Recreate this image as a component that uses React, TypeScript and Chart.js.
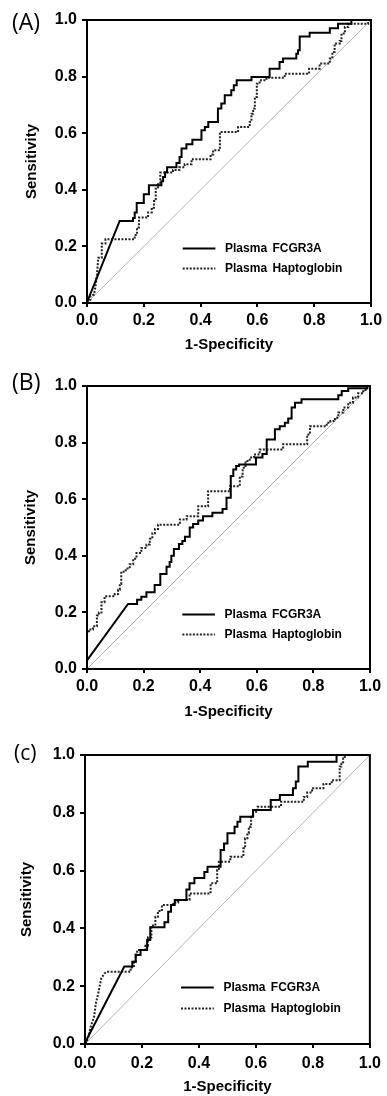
import React, { useEffect, useRef } from "react";
import { Chart, registerables } from "chart.js";

Chart.register(...registerables);

const FONT = "'Liberation Sans', Arial, Helvetica, sans-serif";
const LABEL_FONT = "'Open Sans', 'Noto Sans', sans-serif";

type Pt = [number, number];

const SERIES_LABELS = ["Plasma FCGR3A", "Plasma Haptoglobin"];
const AXIS_TICKS = [0, 0.2, 0.4, 0.6, 0.8, 1.0];
const X_TITLE = "1-Specificity";
const Y_TITLE = "Sensitivity";
const PANEL_LABELS = ["(A)", "(B)", "(c)"];
const CHANCE_LINE: Pt[] = [[0, 0], [1, 1]];

// Panel A
const A_FCGR3A: Pt[] = [
  [0, 0], [0.005, 0.015], [0.115, 0.29], [0.162, 0.29], [0.162, 0.3], [0.168, 0.3], [0.168, 0.32], [0.175, 0.32],
  [0.175, 0.353], [0.2, 0.353], [0.2, 0.384], [0.218, 0.384], [0.218, 0.416], [0.262, 0.416], [0.262, 0.43],
  [0.268, 0.43], [0.268, 0.445], [0.275, 0.445], [0.275, 0.462], [0.282, 0.462], [0.282, 0.48], [0.315, 0.48],
  [0.315, 0.495], [0.326, 0.495], [0.326, 0.516], [0.333, 0.516], [0.333, 0.546], [0.35, 0.546], [0.35, 0.561],
  [0.371, 0.561], [0.371, 0.577], [0.403, 0.577], [0.403, 0.61], [0.415, 0.61], [0.415, 0.622], [0.427, 0.622],
  [0.427, 0.64], [0.461, 0.64], [0.461, 0.687], [0.473, 0.687], [0.473, 0.705], [0.485, 0.705], [0.485, 0.734],
  [0.508, 0.734], [0.508, 0.752], [0.517, 0.752], [0.517, 0.769], [0.527, 0.769], [0.527, 0.787], [0.579, 0.787],
  [0.579, 0.799], [0.643, 0.799], [0.643, 0.828], [0.678, 0.828], [0.678, 0.852], [0.69, 0.852], [0.69, 0.864],
  [0.737, 0.864], [0.737, 0.881], [0.743, 0.881], [0.743, 0.893], [0.749, 0.893], [0.749, 0.942], [0.784, 0.942],
  [0.784, 0.955], [0.855, 0.955], [0.855, 0.971], [0.884, 0.971], [0.884, 0.987], [0.931, 0.987], [0.931, 1], [1, 1],
];
const A_HAPTO: Pt[] = [
  [0, 0], [0.012, 0.012], [0.012, 0.025], [0.025, 0.03], [0.03, 0.06], [0.035, 0.1], [0.04, 0.16], [0.052, 0.16],
  [0.052, 0.21], [0.065, 0.21], [0.065, 0.225], [0.168, 0.225], [0.168, 0.24], [0.176, 0.24], [0.176, 0.267],
  [0.183, 0.267], [0.183, 0.302], [0.215, 0.302], [0.215, 0.32], [0.228, 0.32], [0.228, 0.337], [0.236, 0.337],
  [0.236, 0.36], [0.242, 0.36], [0.242, 0.404], [0.25, 0.404], [0.25, 0.42], [0.258, 0.42], [0.258, 0.461],
  [0.303, 0.461], [0.303, 0.47], [0.325, 0.47], [0.325, 0.48], [0.344, 0.48], [0.344, 0.49], [0.368, 0.49],
  [0.368, 0.508], [0.435, 0.508], [0.435, 0.525], [0.444, 0.525], [0.444, 0.54], [0.468, 0.54], [0.468, 0.604],
  [0.532, 0.604], [0.532, 0.622], [0.573, 0.622], [0.573, 0.64], [0.579, 0.64], [0.579, 0.669], [0.585, 0.669],
  [0.585, 0.687], [0.591, 0.687], [0.591, 0.728], [0.598, 0.728], [0.598, 0.775], [0.608, 0.775], [0.608, 0.787],
  [0.632, 0.787], [0.632, 0.796], [0.696, 0.796], [0.696, 0.81], [0.782, 0.81], [0.782, 0.828], [0.819, 0.828],
  [0.819, 0.846], [0.855, 0.846], [0.855, 0.864], [0.864, 0.864], [0.864, 0.887], [0.872, 0.887], [0.872, 0.917],
  [0.89, 0.917], [0.89, 0.926], [0.896, 0.926], [0.896, 0.952], [0.908, 0.952], [0.908, 0.975], [0.92, 0.975],
  [0.92, 0.987], [0.99, 0.987], [0.99, 1], [1, 1],
];

// Panel B
const B_FCGR3A: Pt[] = [
  [0, 0], [0, 0.03], [0.145, 0.23], [0.177, 0.23], [0.177, 0.245], [0.192, 0.245], [0.192, 0.255], [0.21, 0.255],
  [0.21, 0.271], [0.239, 0.271], [0.239, 0.297], [0.259, 0.297], [0.259, 0.336], [0.281, 0.336], [0.281, 0.361],
  [0.292, 0.361], [0.292, 0.378], [0.298, 0.378], [0.298, 0.4], [0.307, 0.4], [0.307, 0.424], [0.325, 0.424],
  [0.325, 0.442], [0.337, 0.442], [0.337, 0.452], [0.346, 0.452], [0.346, 0.467], [0.363, 0.467], [0.363, 0.5],
  [0.375, 0.5], [0.375, 0.512], [0.393, 0.512], [0.393, 0.525], [0.41, 0.525], [0.41, 0.54], [0.443, 0.54],
  [0.443, 0.552], [0.479, 0.552], [0.479, 0.565], [0.493, 0.565], [0.493, 0.605], [0.508, 0.605], [0.508, 0.682],
  [0.517, 0.682], [0.517, 0.705], [0.527, 0.705], [0.527, 0.717], [0.537, 0.717], [0.537, 0.723], [0.597, 0.723],
  [0.597, 0.747], [0.62, 0.747], [0.62, 0.76], [0.635, 0.76], [0.635, 0.811], [0.664, 0.811], [0.664, 0.847],
  [0.681, 0.847], [0.681, 0.858], [0.699, 0.858], [0.699, 0.87], [0.711, 0.87], [0.711, 0.885], [0.723, 0.885],
  [0.723, 0.924], [0.735, 0.924], [0.735, 0.941], [0.758, 0.941], [0.758, 0.953], [0.888, 0.953], [0.888, 0.967],
  [0.9, 0.967], [0.9, 0.982], [0.923, 0.982], [0.923, 0.992], [0.99, 0.992], [0.99, 1], [1, 1],
];
const B_HAPTO: Pt[] = [
  [0, 0], [0, 0.133], [0.007, 0.133], [0.007, 0.14], [0.021, 0.14], [0.021, 0.151], [0.035, 0.151], [0.035, 0.189],
  [0.042, 0.189], [0.042, 0.2], [0.051, 0.2], [0.051, 0.236], [0.062, 0.236], [0.062, 0.257], [0.098, 0.257],
  [0.098, 0.265], [0.11, 0.265], [0.11, 0.28], [0.116, 0.28], [0.116, 0.3], [0.121, 0.3], [0.121, 0.344],
  [0.137, 0.344], [0.137, 0.355], [0.151, 0.355], [0.151, 0.37], [0.163, 0.37], [0.163, 0.39], [0.175, 0.39],
  [0.175, 0.41], [0.192, 0.41], [0.192, 0.428], [0.21, 0.428], [0.21, 0.44], [0.222, 0.44], [0.222, 0.46],
  [0.231, 0.46], [0.231, 0.48], [0.24, 0.48], [0.24, 0.495], [0.251, 0.495], [0.251, 0.51], [0.328, 0.51],
  [0.328, 0.528], [0.352, 0.528], [0.352, 0.54], [0.393, 0.54], [0.393, 0.575], [0.428, 0.575], [0.428, 0.628],
  [0.505, 0.628], [0.505, 0.646], [0.54, 0.646], [0.54, 0.68], [0.55, 0.68], [0.55, 0.711], [0.56, 0.711],
  [0.56, 0.735], [0.575, 0.735], [0.575, 0.747], [0.59, 0.747], [0.59, 0.758], [0.61, 0.758], [0.61, 0.776],
  [0.693, 0.776], [0.693, 0.794], [0.778, 0.794], [0.778, 0.829], [0.788, 0.829], [0.788, 0.858], [0.847, 0.858],
  [0.847, 0.87], [0.86, 0.87], [0.86, 0.876], [0.876, 0.876], [0.876, 0.888], [0.888, 0.888], [0.888, 0.906],
  [0.906, 0.906], [0.906, 0.924], [0.923, 0.924], [0.923, 0.941], [0.94, 0.941], [0.94, 0.959], [0.958, 0.959],
  [0.958, 0.974], [0.976, 0.974], [0.976, 0.986], [0.99, 0.986], [0.99, 1], [1, 1],
];

// Panel C
const C_FCGR3A: Pt[] = [
  [0, 0], [0.003, 0.01], [0.138, 0.268], [0.166, 0.268], [0.166, 0.285], [0.178, 0.285], [0.178, 0.308],
  [0.195, 0.308], [0.195, 0.325], [0.218, 0.325], [0.218, 0.36], [0.229, 0.36], [0.229, 0.404], [0.279, 0.404],
  [0.279, 0.421], [0.292, 0.421], [0.292, 0.458], [0.302, 0.458], [0.302, 0.481], [0.315, 0.481], [0.315, 0.498],
  [0.356, 0.498], [0.356, 0.535], [0.367, 0.535], [0.367, 0.556], [0.384, 0.556], [0.384, 0.574], [0.419, 0.574],
  [0.419, 0.595], [0.43, 0.595], [0.43, 0.613], [0.476, 0.613], [0.476, 0.671], [0.488, 0.671], [0.488, 0.694],
  [0.5, 0.694], [0.5, 0.729], [0.525, 0.729], [0.525, 0.752], [0.535, 0.752], [0.535, 0.769], [0.545, 0.769],
  [0.545, 0.786], [0.59, 0.786], [0.59, 0.81], [0.652, 0.81], [0.652, 0.844], [0.684, 0.844], [0.684, 0.862],
  [0.73, 0.862], [0.73, 0.885], [0.74, 0.885], [0.74, 0.908], [0.749, 0.908], [0.749, 0.96], [0.782, 0.96],
  [0.782, 0.977], [0.883, 0.977], [0.883, 1], [1, 1],
];
const C_HAPTO: Pt[] = [
  [0, 0], [0.011, 0.02], [0.02, 0.06], [0.032, 0.095], [0.038, 0.14], [0.046, 0.173], [0.057, 0.227],
  [0.069, 0.245], [0.08, 0.25], [0.16, 0.25], [0.16, 0.265], [0.172, 0.265], [0.172, 0.285], [0.178, 0.285],
  [0.178, 0.31], [0.183, 0.31], [0.183, 0.325], [0.212, 0.325], [0.212, 0.34], [0.221, 0.34], [0.221, 0.369],
  [0.233, 0.369], [0.233, 0.41], [0.247, 0.41], [0.247, 0.44], [0.256, 0.44], [0.256, 0.46], [0.27, 0.46],
  [0.27, 0.481], [0.31, 0.481], [0.31, 0.49], [0.327, 0.49], [0.327, 0.498], [0.367, 0.498], [0.367, 0.521],
  [0.441, 0.521], [0.441, 0.556], [0.464, 0.556], [0.464, 0.602], [0.47, 0.602], [0.47, 0.631], [0.51, 0.631],
  [0.51, 0.648], [0.556, 0.648], [0.556, 0.677], [0.562, 0.677], [0.562, 0.712], [0.57, 0.712], [0.57, 0.729],
  [0.575, 0.729], [0.575, 0.752], [0.583, 0.752], [0.583, 0.786], [0.59, 0.786], [0.59, 0.804], [0.606, 0.804],
  [0.606, 0.821], [0.688, 0.821], [0.688, 0.838], [0.768, 0.838], [0.768, 0.855], [0.78, 0.855], [0.78, 0.87],
  [0.797, 0.87], [0.797, 0.885], [0.837, 0.885], [0.837, 0.9], [0.866, 0.9], [0.866, 0.913], [0.894, 0.913],
  [0.894, 0.96], [0.9, 0.96], [0.9, 0.97], [0.906, 0.97], [0.906, 0.988], [0.912, 0.988], [0.912, 1], [1, 1],
];

interface PanelCfg {
  top: number;
  height: number;
  padTop: number;
  padRight: number;
  yWidth: number;
  xHeight: number;
  yTitlePad: number;
  xTitlePad: number;
  xTickPad: number;
  label: string;
  labelLeft: number;
  labelTop: number;
  labelSize: number;
  fcgr: Pt[];
  hapto: Pt[];
}

const PANELS: PanelCfg[] = [
  { top: 0, height: 360, padTop: 20, padRight: 16, yWidth: 87, xHeight: 57, yTitlePad: 23, xTitlePad: 6, xTickPad: 4,
    label: PANEL_LABELS[0], labelLeft: 12, labelTop: 10, labelSize: 23, fcgr: A_FCGR3A, hapto: A_HAPTO },
  { top: 366, height: 360, padTop: 20, padRight: 17, yWidth: 87, xHeight: 57, yTitlePad: 22, xTitlePad: 5, xTickPad: 4,
    label: PANEL_LABELS[1], labelLeft: 12, labelTop: 370, labelSize: 23, fcgr: B_FCGR3A, hapto: B_HAPTO },
  { top: 735, height: 361, padTop: 20, padRight: 11, yWidth: 85, xHeight: 52, yTitlePad: 18, xTitlePad: 0, xTickPad: 6,
    label: PANEL_LABELS[2], labelLeft: 14, labelTop: 742, labelSize: 21, fcgr: C_FCGR3A, hapto: C_HAPTO },
];

const toXY = (arr: Pt[]) => arr.map(([x, y]) => ({ x, y }));

const rocPlugin = {
  id: "rocLegendFrame",
  afterDatasetsDraw(chart: any) {
    const { ctx, chartArea } = chart;
    const { left, right, top, bottom } = chartArea;
    const w = right - left;
    const h = bottom - top;
    ctx.save();
    const items = chart.data.datasets.filter((d: any) => d.label);
    items.forEach((ds: any, i: number) => {
      const y = Math.round(bottom - (0.196 - i * 0.071) * h) + 0.5;
      ctx.beginPath();
      ctx.setLineDash(ds.borderDash || []);
      ctx.lineWidth = ds.borderWidth;
      ctx.strokeStyle = ds.borderColor;
      ctx.moveTo(left + 0.337 * w, y);
      ctx.lineTo(left + 0.452 * w, y);
      ctx.stroke();
      ctx.setLineDash([]);
      ctx.fillStyle = "#000";
      ctx.font = `bold 12px ${FONT}`;
      ctx.textBaseline = "middle";
      ctx.textAlign = "left";
      try { (ctx as any).wordSpacing = "2px"; } catch (e) { /* ignore */ }
      ctx.fillText(ds.label, left + 0.486 * w, y);
    });
    ctx.lineWidth = 2;
    ctx.strokeStyle = "#000";
    ctx.strokeRect(left, top, w, h);
    ctx.restore();
  },
};

function axisCommon(cfg: PanelCfg, isX: boolean) {
  return {
    type: "linear" as const,
    min: 0,
    max: 1,
    afterBuildTicks: (s: any) => {
      s.ticks = AXIS_TICKS.map((v) => ({ value: v }));
    },
    afterFit: (s: any) => {
      if (isX) s.height = cfg.xHeight;
      else s.width = cfg.yWidth;
    },
    ticks: {
      callback: (v: any) => Number(v).toFixed(1),
      font: { family: FONT, size: 16, weight: "bold" as const },
      color: "#000",
      padding: isX ? cfg.xTickPad : 5,
      maxRotation: 0,
      autoSkip: false,
    },
    grid: {
      drawOnChartArea: false,
      drawTicks: true,
      tickLength: isX ? 4 : 5,
      color: "#000",
      lineWidth: 2,
    },
    border: { display: true, color: "#000", width: 2 },
    title: {
      display: true,
      text: isX ? X_TITLE : Y_TITLE,
      font: { family: FONT, size: 15, weight: "bold" as const },
      color: "#000",
      padding: isX ? { top: 0, bottom: cfg.xTitlePad } : { top: cfg.yTitlePad, bottom: 0 },
    },
  };
}

function Panel({ cfg }: { cfg: PanelCfg }) {
  const ref = useRef<HTMLCanvasElement | null>(null);
  useEffect(() => {
    if (!ref.current) return;
    const chart = new Chart(ref.current, {
      type: "scatter",
      data: {
        datasets: [
          {
            label: SERIES_LABELS[0],
            data: toXY(cfg.fcgr),
            showLine: true,
            borderColor: "#000",
            borderWidth: 2,
            pointRadius: 0,
            tension: 0,
          },
          {
            label: SERIES_LABELS[1],
            data: toXY(cfg.hapto),
            showLine: true,
            borderColor: "#222",
            borderWidth: 2,
            borderDash: [2, 1.5],
            pointRadius: 0,
            tension: 0,
          },
          {
            label: "",
            data: toXY(CHANCE_LINE),
            showLine: true,
            borderColor: "#b5b5b5",
            borderWidth: 1,
            pointRadius: 0,
            tension: 0,
          },
        ],
      },
      options: {
        responsive: false,
        maintainAspectRatio: false,
        devicePixelRatio: 1,
        animation: false,
        layout: { padding: { left: 0, top: cfg.padTop, right: cfg.padRight, bottom: 0 } },
        plugins: { legend: { display: false }, tooltip: { enabled: false } },
        scales: {
          x: axisCommon(cfg, true) as any,
          y: axisCommon(cfg, false) as any,
        },
      },
      plugins: [rocPlugin],
    });
    return () => chart.destroy();
  }, [cfg]);

  return (
    <>
      <canvas
        ref={ref}
        width={387}
        height={cfg.height}
        style={{ position: "absolute", left: 0, top: cfg.top, width: 387, height: cfg.height }}
      />
      <div
        style={{
          position: "absolute",
          left: cfg.labelLeft,
          top: cfg.labelTop,
          fontFamily: LABEL_FONT,
          fontSize: cfg.labelSize,
          lineHeight: `${cfg.labelSize}px`,
          color: "#000",
          whiteSpace: "nowrap",
        }}
      >
        {cfg.label}
      </div>
    </>
  );
}

export default function App() {
  return (
    <div
      style={{
        position: "absolute",
        left: 0,
        top: 0,
        width: 387,
        height: 1096,
        overflow: "hidden",
        background: "#fff",
      }}
    >
      {PANELS.map((p) => (
        <Panel key={p.label} cfg={p} />
      ))}
    </div>
  );
}
